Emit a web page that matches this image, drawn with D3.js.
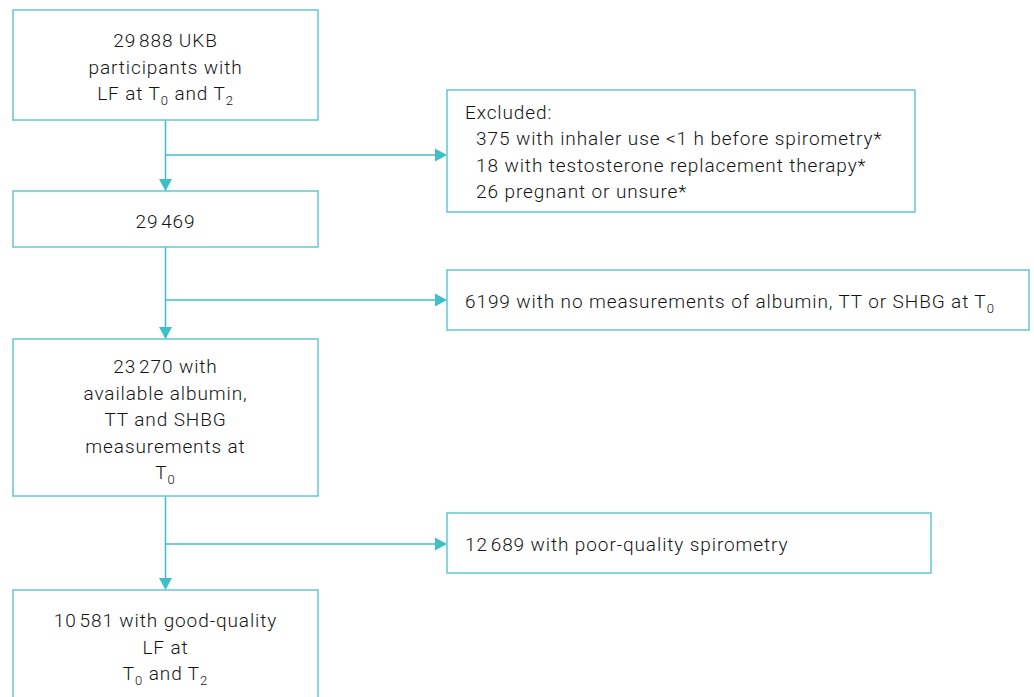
<!DOCTYPE html>
<html>
<head>
<meta charset="utf-8">
<script src="https://cdn.jsdelivr.net/npm/d3@7"></script>
<style>
  body { margin: 0; background: #fff; }
  svg { display: block; }
  text { font-family: Roboto, 'DejaVu Sans', sans-serif; font-size: 19px; font-weight: 300; letter-spacing: 0.9px; fill: #141414; }
</style>
</head>
<body>
<script>
// flow steps down the left column (text only, "_n" marks a subscript)
const mainSteps = [
  ['29\u200a888 UKB', 'participants with', 'LF at T_0 and T_2'],
  ['29\u200a469'],
  ['23\u200a270 with', 'available albumin,', 'TT and SHBG', 'measurements at', 'T_0'],
  ['10\u200a581 with good-quality', 'LF at', 'T_0 and T_2'],
];

// exclusion boxes on the right
const exclusions = [
  ['Excluded:', '  375 with inhaler use <1 h before spirometry*', '  18 with testosterone replacement therapy*', '  26 pregnant or unsure*'],
  ['6199 with no measurements of albumin, TT or SHBG at T_0'],
  ['12\u200a689 with poor-quality spirometry'],
];

const w = 1034;
const h = 697;
const lineColor = '#3fbfc6';
const boxColor = '#62c9cf';
const lineH = 26.5;

// layout of the boxes (px)
const mainBox = { x: 13, w: 305 };
const mainY = [[10, 120], [191, 247], [339, 496], [590, 760]];
const exBox = [
  { x: 447, w: 468, y: 90, h: 122 },
  { x: 447, w: 582, y: 270, h: 60 },
  { x: 447, w: 484, y: 513, h: 60 },
];
const branchY = [155, 300, 544];

const svg = d3.select('body').append('svg').attr('width', w).attr('height', h);

// write a line with subscripts as tspans
function writeLine(sel, str) {
  const parts = str.split(/(_\d)/).filter((p) => p.length);
  parts.forEach((p) => {
    if (p[0] === '_') {
      sel.append('tspan')
        .attr('baseline-shift', '-5')
        .style('font-size', '13px')
        .text(p.slice(1));
    } else {
      sel.append('tspan').text(p);
    }
  });
}

const cx = mainBox.x + mainBox.w / 2;

// connectors
const links = svg.append('g');
links.append('line')
  .attr('x1', cx).attr('x2', cx)
  .attr('y1', mainY[0][1]).attr('y2', mainY[3][0] - 11)
  .attr('stroke', lineColor).attr('stroke-width', 1.5);

mainY.slice(1).forEach((d) => {
  links.append('path')
    .attr('d', `M${cx - 6.5},${d[0] - 12} L${cx + 6.5},${d[0] - 12} L${cx},${d[0]} Z`)
    .attr('fill', lineColor);
});

branchY.forEach((y, i) => {
  const tip = exBox[i].x;
  links.append('line')
    .attr('x1', cx).attr('x2', tip - 11)
    .attr('y1', y).attr('y2', y)
    .attr('stroke', lineColor).attr('stroke-width', 1.5);
  links.append('path')
    .attr('d', `M${tip - 12},${y - 6.5} L${tip - 12},${y + 6.5} L${tip},${y} Z`)
    .attr('fill', lineColor);
});

// main boxes
mainSteps.forEach((lines, i) => {
  const [y0, y1] = mainY[i];
  const g = svg.append('g');
  g.append('rect')
    .attr('x', mainBox.x).attr('y', y0)
    .attr('width', mainBox.w).attr('height', y1 - y0)
    .attr('fill', '#fff').attr('stroke', boxColor).attr('stroke-width', 1.5);
  const mid = i === 3 ? 647 : (y0 + y1) / 2 + 2;
  const top = mid - ((lines.length - 1) * lineH) / 2;
  lines.forEach((l, j) => {
    const t = g.append('text')
      .attr('x', cx).attr('y', top + j * lineH + 6.5)
      .attr('text-anchor', 'middle');
    writeLine(t, l);
  });
});

// exclusion boxes
exclusions.forEach((lines, i) => {
  const b = exBox[i];
  const g = svg.append('g');
  g.append('rect')
    .attr('x', b.x).attr('y', b.y)
    .attr('width', b.w).attr('height', b.h)
    .attr('fill', '#fff').attr('stroke', boxColor).attr('stroke-width', 1.5);
  const mid = b.y + b.h / 2 + 1;
  const top = mid - ((lines.length - 1) * lineH) / 2;
  lines.forEach((l, j) => {
    const t = g.append('text')
      .attr('x', b.x + 18).attr('y', top + j * lineH + 6.5)
      .style('white-space', 'pre');
    writeLine(t, l);
  });
});
</script>
</body>
</html>
